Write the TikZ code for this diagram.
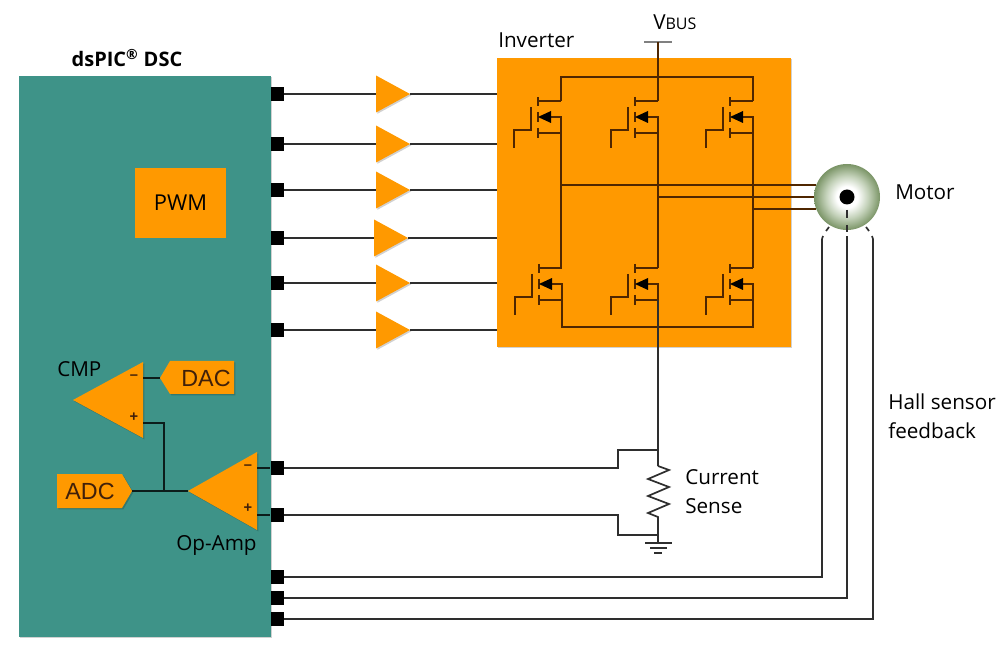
\documentclass[tikz,border=0pt]{standalone}
\usepackage{fontspec}
\setmainfont{Open Sans}
\newfontfamily\arialf{Liberation Sans}
\usetikzlibrary{shapes.geometric,shadows}
\definecolor{tealbox}{HTML}{3E9388}
\definecolor{orangebox}{HTML}{FF9900}
\definecolor{wire}{HTML}{2E2E2E}
\definecolor{invwire}{HTML}{4F2600}
\definecolor{labelbrown}{HTML}{40200A}
\definecolor{motoredge}{HTML}{7A9466}
\definecolor{motormid}{HTML}{C4D2BA}
\pgfdeclareradialshading{motorshade}{\pgfpoint{0bp}{0bp}}{color(0bp)=(white); color(8bp)=(white); color(16bp)=(motormid); color(25bp)=(motoredge); color(50bp)=(motoredge)}
\def\pxl{0.75pt}
\tikzset{
  x=0.75pt,y=-0.75pt,
  softshadow/.style={drop shadow={shadow xshift=1pt,shadow yshift=-1pt,fill=black,opacity=.18}},
  panel/.style={draw=none,inner sep=0pt,softshadow},
  pinbox/.style={rectangle,fill=black,inner sep=0pt,minimum width=13*\pxl,minimum height=14*\pxl},
  tri/.style={isosceles triangle,isosceles triangle stretches,fill=orangebox,inner sep=0pt,outer sep=0pt,anchor=lower side,softshadow},
  buffer/.style={tri,minimum width=37*\pxl,minimum height=34*\pxl,shape border rotate=0},
  amp/.style={tri,shape border rotate=180},
  wireline/.style={draw=wire,line width=1.7*\pxl},
  invline/.style={draw=invwire,line width=1.8*\pxl},
  label/.style={font=\fontsize{15.5pt}{18pt}\selectfont,inner sep=0pt,text=black},
  tag/.style={font=\arialf\fontsize{17.5pt}{20pt}\selectfont,inner sep=0pt,text=labelbrown},
  sign/.style={font=\arialf\bfseries\fontsize{11pt}{12pt}\selectfont,inner sep=0pt,text=labelbrown},
}
\newcommand{\mosfet}[3]{% name, drain-line x, drain y
  \coordinate (#1d) at (#2,#3);
  \coordinate (#1s) at (#2,#3+16);
  \coordinate (#1b) at (#2,#3+32);
  \draw[invline] (#2-23,#3-4) -- (#2-23,#3+5);
  \draw[invline] (#2-23,#3+11) -- (#2-23,#3+21);
  \draw[invline] (#2-23,#3+27) -- (#2-23,#3+37);
  \draw[invline] (#2-23,#3) -- (#1d);
  \draw[invline] (#2-23,#3+32) -- (#1b);
  \draw[invline] (#2-14,#3+16) -- (#1s) -- (#1b);
  \fill[black] (#2-23,#3+16) -- (#2-10,#3+10) -- (#2-10,#3+22) -- cycle;
  \draw[invline] (#2-30,#3+6) -- (#2-30,#3+29) -- (#2-47,#3+29) -- (#2-47,#3+47);
}
\begin{document}
\begin{tikzpicture}
\useasboundingbox (0,0) rectangle (1003,648);
% main blocks
\node[panel,fill=tealbox,minimum width=252*\pxl,minimum height=561*\pxl] (dsp) at (145,356.5) {};
\node[panel,fill=orangebox,minimum width=294*\pxl,minimum height=289*\pxl] (inv) at (644,202.5) {};
\node[inner sep=0pt,fill=orangebox,minimum width=91*\pxl,minimum height=70*\pxl,label,font=\fontsize{16.4pt}{18pt}\selectfont] (pwm) at (180.5,203) {PWM};
\node[label,font=\bfseries\fontsize{15pt}{18pt}\selectfont] (dsptitle) at (127,58) {dsPIC\textsuperscript{®} DSC};
\node[label,anchor=west] (invtitle) at (498,40) {Inverter};
% pins
\foreach \n/\y in {1/94,2/144,3/190,4/238,5/283,6/330,7/468,8/515,9/577,10/598,11/619}
  \node[pinbox] (p\n) at (277,\y) {};
% buffers
\foreach \n/\xx/\y in {1/376/94,2/376/144,3/376/190,4/374/238,5/376/283,6/376/330}
  \node[buffer] (b\n) at (\xx,\y) {};
\foreach \n in {1,...,6}{
  \draw[wireline] (p\n.east) -- (b\n.lower side);
  \draw[wireline] (b\n.apex) -- (inv.west |- b\n.apex);
}
% inverter switches
\mosfet{ta}{561}{101}
\mosfet{tb}{658}{101}
\mosfet{tc}{753}{101}
\mosfet{ba}{562}{268}
\mosfet{bb}{658}{268}
\mosfet{bc}{753}{268}
\coordinate (vbus) at (658,42);
\coordinate (vl) at (644,42);
\coordinate (vr) at (672,42);
\draw[draw=gray,line width=1.5*\pxl] (vl) -- (vr);
\draw[invline] (vbus) -- (tbd);
\draw[invline] (tad) -- (561,77) -- (753,77) -- (tcd);
\draw[invline] (tab) -- (bad -| tab);
\draw[invline] (tbb) -- (bbd);
\draw[invline] (tcb) -- (bcd);
\draw[invline] (bab) -- (562,327) -- (753,327) -- (bcb);
% motor
\node[circle,inner sep=0pt,minimum size=66*\pxl,shading=motorshade] (motor) at (847,197) {};
\node[circle,fill=black,inner sep=0pt,minimum size=15*\pxl] (shaft) at (motor) {};
\draw[invline] (561,185) -- (motor.159);
\draw[invline] (658,197) -- (motor.180);
\draw[invline] (753,209) -- (motor.201);
\node[label,anchor=west] (motorlab) at (895,192) {Motor};
% current sense
\coordinate (st) at (658,450);
\coordinate (rt) at (658,466);
\coordinate (rb) at (658,517);
\coordinate (gnd) at (658,543);
\draw[wireline] (bbb) -- (rt);
\draw[wireline] (rt) -- (669,470) -- (648,479) -- (669,487) -- (648,496) -- (669,504) -- (648,513) -- (rb) -- (gnd);
\draw[wireline] (p7.east) -- (618,468) -- (618,450) -- (st);
\draw[wireline] (p8.east) -- (618,515) -- (618,535) -- (658,535);
\draw[wireline] (645,543) -- (672,543);
\draw[wireline] (650,548) -- (667,548);
\draw[wireline] (654,553) -- (662,553);
\node[label,anchor=west] (cs1) at (685,477) {Current};
\node[label,anchor=west] (cs2) at (685,506) {Sense};
\node[label,anchor=west] (hall1) at (888,402) {Hall sensor};
\node[label,anchor=west] (hall2) at (888,431) {feedback};
% hall wires
\draw[wireline] (p9.east) -- (822,577) -- (822,239);
\draw[wireline] (p10.east) -- (847,598) -- (847,236);
\draw[wireline] (p11.east) -- (873,619) -- (873,239);
\draw[wireline] (822,239) -- (823,236);
\draw[wireline] (873,239) -- (872,236);
\draw[wireline] (826,231) -- (829,227);
\draw[wireline] (869,231) -- (866,227);
\draw[wireline] (847,225) -- (847,232);
\draw[wireline] (847,210) -- (847,218);
% analog blocks
\node[amp,minimum width=76*\pxl,minimum height=70*\pxl] (cmp) at (143,400) {};
\node[amp,minimum width=78*\pxl,minimum height=69*\pxl] (opamp) at (257,491) {};
\fill[orangebox,softshadow] (160,378) -- (170,361) -- (234,361) -- (234,394) -- (170,394) -- cycle;
\fill[orangebox,softshadow] (57,474) -- (122,474) -- (132,491) -- (122,508) -- (57,508) -- cycle;
\node[tag] (dac) at (206,378) {DAC};
\node[tag] (adc) at (90,491) {ADC};
\node[label,anchor=west] (cmplab) at (57,369) {CMP};
\node[label,anchor=west] (oplab) at (176,545) {Op-Amp};
\node[sign] (cmpm) at (134,377) {–};
\node[sign] (cmpp) at (134,417) {+};
\node[sign] (opm) at (248,467) {–};
\node[sign] (opp) at (248,508) {+};
\coordinate (dactip) at (160,378);
\coordinate (cmpin1) at (143,378);
\coordinate (cmpin2) at (143,423);
\coordinate (adctip) at (132,491);
\draw[wireline,draw=black!80!tealbox] (cmpin1) -- (dactip);
\draw[wireline,draw=black!80!tealbox] (cmpin2) -- (164,423) -- (164,491);
\draw[wireline,draw=black!80!tealbox] (adctip) -- (opamp.apex);
\draw[wireline,draw=black!80!tealbox] (257,468) -- (p7.west);
\draw[wireline,draw=black!80!tealbox] (257,515) -- (p8.west);
% Vbus label
\node[label,anchor=west] (vbuslab) at (653,22) {V{\fontsize{12pt}{14pt}\selectfont BUS}};
\end{tikzpicture}
\end{document}
